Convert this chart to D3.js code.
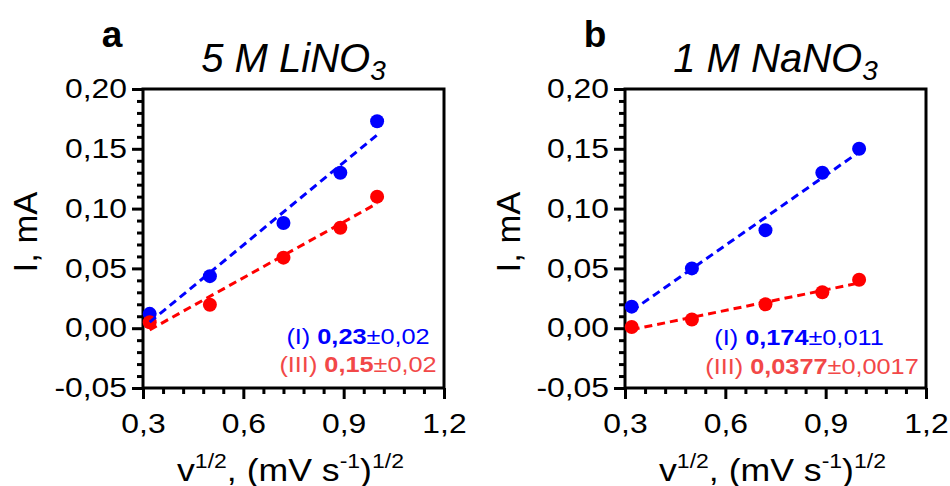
<!DOCTYPE html>
<html>
<head>
<meta charset="utf-8">
<script src="https://cdn.jsdelivr.net/npm/d3@7"></script>
<style>
  html, body { margin: 0; padding: 0; background: #fff; }
  svg { display: block; }
  text { font-family: "Liberation Sans", Arial, Helvetica, sans-serif; }
</style>
</head>
<body>
<svg id="chart" width="950" height="486"></svg>
<script>
// ---------------- data ----------------
const xValues = [0.32, 0.5, 0.72, 0.89, 1.0];            // v^1/2
const liSeriesI   = [0.012, 0.0435, 0.088, 0.130, 0.173];  // 5 M LiNO3, (I)
const liSeriesIII = [0.005, 0.0196, 0.059, 0.084, 0.110];  // 5 M LiNO3, (III)
const naSeriesI   = [0.018, 0.050, 0.082, 0.130, 0.150];   // 1 M NaNO3, (I)
const naSeriesIII = [0.001, 0.0073, 0.020, 0.030, 0.0405]; // 1 M NaNO3, (III)

const yTicks = [-0.05, 0.00, 0.05, 0.10, 0.15, 0.20];
const xTicks = [0.3, 0.6, 0.9, 1.2];
const panelLetters = ["a", "b"];
const panelTitles = [["5 M LiNO", "3"], ["1 M NaNO", "3"]];
const legendA = [["(I) ", "0,23", "±0,02"], ["(III) ", "0,15", "±0,02"]];
const legendB = [["(I) ", "0,174", "±0,011"], ["(III) ", "0,0377", "±0,0017"]];

// ---------------- drawing ----------------
const svg = d3.select("#chart");
const BLUE = "#0000ff", RED = "#ff0000", RED_TXT = "#f24848";
const K = 1.15;     // horizontal glyph stretch
const KT = 1.18;    // tick label stretch

const fmtY = v => (v < 0 ? "-" : "") + Math.abs(v).toFixed(2).replace(".", ",");
const fmtX = v => v.toFixed(1).replace(".", ",");

function regression(xs, ys) {
  const mx = d3.mean(xs), my = d3.mean(ys);
  const sxy = d3.sum(xs, (x, i) => (x - mx) * (ys[i] - my));
  const sxx = d3.sum(xs, x => (x - mx) * (x - mx));
  const b = sxy / sxx;
  return { slope: b, intercept: my - b * mx };
}

function stretchedText(parent, x, y, opts) {
  const g = parent.append("g").attr("transform",
    `translate(${x},${y})` + (opts.rotate ? ` rotate(${opts.rotate})` : "") + ` scale(${opts.k ?? K},1)`);
  return g.append("text").attr("x", 0).attr("y", 0)
    .attr("text-anchor", opts.anchor || "middle")
    .attr("font-size", opts.size)
    .attr("font-weight", opts.weight || "normal")
    .attr("font-style", opts.style || "normal")
    .attr("fill", opts.fill || "#000");
}

function drawPanel(p) {
  const x = d3.scaleLinear().domain([0.3, 1.2]).range([p.x0, p.x1]);
  const y = d3.scaleLinear().domain([-0.05, 0.20]).range([388, 89]);
  const g = svg.append("g");

  // minor ticks
  const yMinor = d3.range(-5, 21).map(i => i / 100).filter(v => !yTicks.some(t => Math.abs(t - v) < 1e-9));
  const xMinor = d3.range(0, 16).map(i => 0.3 + i * 0.06).filter(v => !xTicks.some(t => Math.abs(t - v) < 1e-9));

  const gyMinor = g.append("g").attr("transform", `translate(${p.x0},0)`)
    .call(d3.axisLeft(y).tickValues(yMinor).tickSize(6).tickFormat(""));
  gyMinor.select(".domain").remove();
  const gxMinor = g.append("g").attr("transform", `translate(0,388)`)
    .call(d3.axisBottom(x).tickValues(xMinor).tickSize(6).tickFormat(""));
  gxMinor.select(".domain").remove();

  const gy = g.append("g").attr("transform", `translate(${p.x0},0)`)
    .call(d3.axisLeft(y).tickValues(yTicks).tickSize(11).tickPadding(5).tickFormat(fmtY));
  gy.select(".domain").remove();
  gy.selectAll(".tick text")
    .attr("font-size", 27).attr("font-family", "Liberation Sans, Arial, sans-serif")
    .attr("fill", "#000")
    .attr("transform", function () { const xx = +d3.select(this).attr("x"); return `translate(${xx},0) scale(${KT},1)`; })
    .attr("x", 0);

  const gx = g.append("g").attr("transform", `translate(0,388)`)
    .call(d3.axisBottom(x).tickValues(xTicks).tickSize(11).tickPadding(15).tickFormat(fmtX));
  gx.select(".domain").remove();
  gx.selectAll(".tick text")
    .attr("font-size", 27).attr("font-family", "Liberation Sans, Arial, sans-serif")
    .attr("fill", "#000")
    .attr("transform", `scale(${KT},1)`);

  g.selectAll(".tick line").attr("stroke", "#000").attr("stroke-width", 3);

  // frame
  g.append("rect")
    .attr("x", x.range()[0]).attr("y", y.range()[1])
    .attr("width", x.range()[1] - x.range()[0]).attr("height", y.range()[0] - y.range()[1])
    .attr("fill", "none").attr("stroke", "#000").attr("stroke-width", 3);

  // series
  p.series.forEach(s => {
    g.append("g").selectAll("circle").data(s.values).join("circle")
      .attr("cx", (d, i) => x(xValues[i])).attr("cy", d => y(d))
      .attr("r", 7).attr("fill", s.color);
  });
  p.series.forEach(s => {
    const r = regression(xValues, s.values);
    const xs = d3.extent(xValues);
    g.append("line")
      .attr("x1", x(xs[0])).attr("y1", y(r.intercept + r.slope * xs[0]))
      .attr("x2", x(xs[1])).attr("y2", y(r.intercept + r.slope * xs[1]))
      .attr("stroke", s.color).attr("stroke-width", 3)
      .attr("stroke-dasharray", "8,5");
  });

  // legend
  p.legend.forEach((parts, i) => {
    const t = stretchedText(g, p.legendX[i], p.legendY[i], { size: 22, fill: i === 0 ? BLUE : RED_TXT });
    t.append("tspan").text(parts[0]);
    t.append("tspan").attr("font-weight", "bold").text(parts[1]);
    t.append("tspan").text(parts[2]);
  });

  // title
  const cx = (p.x0 + p.x1) / 2;
  const tt = stretchedText(g, cx, 72, { size: 40, style: "italic", k: 1.0 });
  tt.append("tspan").text(p.title[0]);
  tt.append("tspan").attr("font-size", 28).attr("dy", 8).text(p.title[1]);

  // panel letter
  stretchedText(g, p.letterX, 47, { size: 37, weight: "bold", k: 1.0 }).text(p.letter);

  // y label
  const yl = stretchedText(g, p.yLabelX, 232, { size: 33, rotate: -90, k: 1.05 });
  yl.text("I, mA");

  // x label
  const xl = stretchedText(g, cx - 3, 481, { size: 31 });
  xl.append("tspan").text("v");
  xl.append("tspan").attr("font-size", 20).attr("dy", -13).text("1/2");
  xl.append("tspan").attr("dy", 13).text(", (mV s");
  xl.append("tspan").attr("font-size", 20).attr("dy", -13).text("-1");
  xl.append("tspan").attr("dy", 13).text(")");
  xl.append("tspan").attr("font-size", 20).attr("dy", -13).text("1/2");
}

drawPanel({
  x0: 143, x1: 444, letter: panelLetters[0], letterX: 112, title: panelTitles[0], yLabelX: 37,
  series: [{ values: liSeriesI, color: BLUE }, { values: liSeriesIII, color: RED }],
  legend: legendA, legendX: [358, 358], legendY: [344, 372]
});
drawPanel({
  x0: 625, x1: 926, letter: panelLetters[1], letterX: 595, title: panelTitles[1], yLabelX: 520,
  series: [{ values: naSeriesI, color: BLUE }, { values: naSeriesIII, color: RED }],
  legend: legendB, legendX: [799, 812], legendY: [345, 374]
});
</script>
</body>
</html>
